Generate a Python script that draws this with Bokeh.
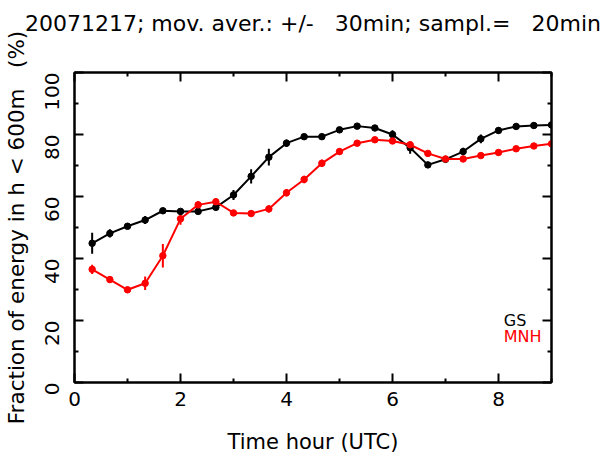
from bokeh.plotting import figure
from bokeh.models import Range1d, LinearAxis, Label, Whisker, ColumnDataSource, FixedTicker
from bokeh.embed import file_html
from bokeh.resources import INLINE
import math

hours = [0.333, 0.667, 1.0, 1.333, 1.667, 2.0, 2.333, 2.667, 3.0, 3.333, 3.667, 4.0, 4.333,
         4.667, 5.0, 5.333, 5.667, 6.0, 6.333, 6.667, 7.0, 7.333, 7.667, 8.0, 8.333, 8.667, 9.0]

gs = [44.9, 48.1, 50.4, 52.4, 55.4, 55.2, 55.2, 56.5, 60.5, 66.5, 72.7, 77.2, 79.3,
      79.3, 81.5, 82.7, 82.1, 80.0, 75.7, 70.2, 72.0, 74.5, 78.6, 81.3, 82.6, 82.9, 83.1]
gs_err = [3.4, 1.3, 1.0, 1.3, 0.8, 0.8, 0.8, 1.0, 1.6, 2.3, 2.7, 1.2, 0.8,
          0.8, 0.8, 0.8, 0.8, 1.4, 1.9, 1.0, 1.0, 1.2, 1.4, 1.0, 0.8, 0.8, 0.8]
mnh = [36.5, 33.2, 29.9, 32.0, 40.9, 52.8, 57.3, 58.3, 54.7, 54.5, 56.0, 61.2, 65.5,
       70.7, 74.5, 77.2, 78.3, 77.9, 76.7, 73.9, 72.1, 72.1, 73.2, 74.2, 75.4, 76.3, 77.0]
mnh_err = [1.5, 1.0, 1.0, 2.2, 3.8, 1.9, 1.2, 1.2, 0.8, 0.8, 1.2, 1.2, 1.2,
           1.2, 1.0, 0.8, 0.8, 0.8, 0.8, 0.8, 0.8, 0.8, 0.8, 0.8, 0.8, 0.8, 0.8]

x_ticks = [0, 2, 4, 6, 8]
x_minor = [1, 3, 5, 7, 9]
y_ticks = [0, 20, 40, 60, 80, 100]
y_minor = [10, 30, 50, 70, 90]

FONT = "DejaVu Sans"
NB = "\u00a0"
TITLE = "20071217; mov. aver.: +/-" + NB * 3 + "30min; sampl.=" + NB * 3 + "20min"

p = figure(frame_width=477, frame_height=310, output_backend="svg", toolbar_location=None,
           x_range=Range1d(0, 9), y_range=Range1d(0, 100),
           min_border_left=73, min_border_right=50, min_border_top=72, min_border_bottom=60)
p.grid.visible = False
p.outline_line_color = "black"
p.outline_line_width = 2
p.background_fill_color = "white"
p.border_fill_color = "white"

def style_axis(ax, ticks, minor, show_labels=True):
    ax.ticker = FixedTicker(ticks=ticks, minor_ticks=minor)
    ax.axis_line_width = 2
    ax.major_tick_in = 9
    ax.major_tick_out = 0
    ax.minor_tick_in = 4
    ax.minor_tick_out = 0
    ax.major_tick_line_width = 2
    ax.minor_tick_line_width = 2
    ax.major_label_text_font = FONT
    ax.major_label_text_font_size = "20px"
    ax.major_label_text_color = "black" if show_labels else None
    ax.axis_label_text_font = FONT
    ax.axis_label_text_font_size = "21px"
    ax.axis_label_text_font_style = "normal"
    ax.axis_label_text_color = "black"

style_axis(p.xaxis[0], x_ticks, x_minor)
style_axis(p.yaxis[0], y_ticks, y_minor)
p.xaxis[0].axis_label = "Time hour (UTC)"
p.xaxis[0].major_label_standoff = 9
p.xaxis[0].axis_label_standoff = 21
p.yaxis[0].axis_label = "Fraction of energy in h < 600m" + NB * 3 + "(%)"
p.yaxis[0].axis_label_text_font_size = "21.5px"
p.yaxis[0].major_label_orientation = math.pi / 2
p.yaxis[0].major_label_standoff = 23
p.yaxis[0].axis_label_standoff = 6

top = LinearAxis()
style_axis(top, x_ticks, x_minor, show_labels=False)
top.major_label_text_font_size = "1px"
top.major_label_standoff = 0
top.axis_label = TITLE
top.axis_label_text_font_size = "22px"
top.axis_label_standoff = 37
p.add_layout(top, "above")
right = LinearAxis()
style_axis(right, y_ticks, y_minor, show_labels=False)
right.major_label_text_font_size = "1px"
p.add_layout(right, "right")

src_gs = ColumnDataSource(dict(x=hours, y=gs, lo=[a - b for a, b in zip(gs, gs_err)],
                               hi=[a + b for a, b in zip(gs, gs_err)]))
src_mnh = ColumnDataSource(dict(x=hours, y=mnh, lo=[a - b for a, b in zip(mnh, mnh_err)],
                                hi=[a + b for a, b in zip(mnh, mnh_err)]))

for src, col in ((src_gs, "black"), (src_mnh, "red")):
    p.line("x", "y", source=src, line_color=col, line_width=2)
    p.add_layout(Whisker(source=src, base="x", lower="lo", upper="hi", dimension="height",
                         line_color=col, line_width=2, upper_head=None, lower_head=None))
    p.scatter("x", "y", source=src, size=6.5, fill_color=col, line_color=col)

p.add_layout(Label(x=8.1, y=20, text="GS", text_color="black", text_font=FONT,
                   text_font_size="16px", text_baseline="alphabetic"))
p.add_layout(Label(x=8.1, y=15, text="MNH", text_color="red", text_font=FONT,
                   text_font_size="16px", text_baseline="alphabetic"))

open("out.html", "w").write(file_html(p, INLINE))
